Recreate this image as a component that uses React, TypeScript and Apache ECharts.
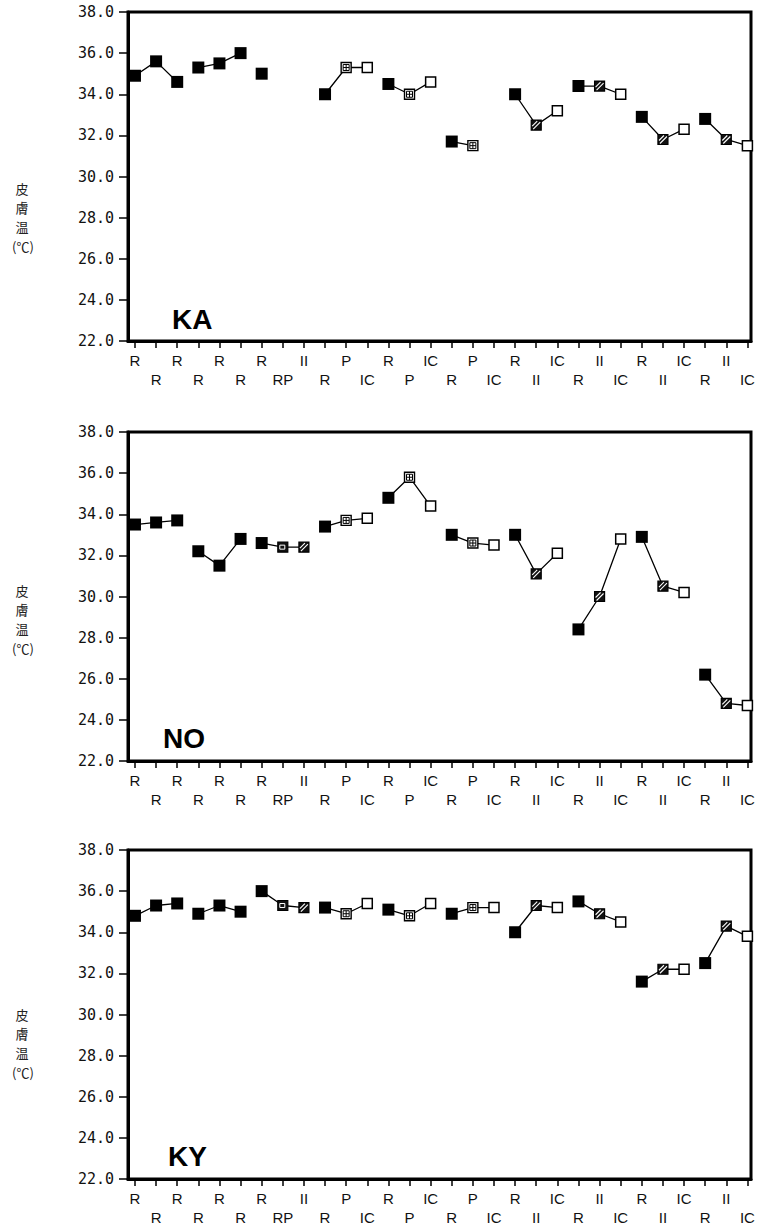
import React, { useEffect, useRef } from "react";
import * as echarts from "echarts";

// Condition labels for the 30 measurement positions (shared by all panels)
const POSITION_LABELS = [
  "R", "R", "R", "R", "R", "R", "R", "RP", "II", "R",
  "P", "IC", "R", "P", "IC", "R", "P", "IC", "R", "II",
  "IC", "R", "II", "IC", "R", "II", "IC", "R", "II", "IC",
];

// Skin temperature (°C) per position; null = not measured
const KA_VALUES = [
  34.9, 35.6, 34.6, 35.3, 35.5, 36.0, 35.0, null, null, 34.0,
  35.3, 35.3, 34.5, 34.0, 34.6, 31.7, 31.5, null, 34.0, 32.5,
  33.2, 34.4, 34.4, 34.0, 32.9, 31.8, 32.3, 32.8, 31.8, 31.5,
];
const NO_VALUES = [
  33.5, 33.6, 33.7, 32.2, 31.5, 32.8, 32.6, 32.4, 32.4, 33.4,
  33.7, 33.8, 34.8, 35.8, 34.4, 33.0, 32.6, 32.5, 33.0, 31.1,
  32.1, 28.4, 30.0, 32.8, 32.9, 30.5, 30.2, 26.2, 24.8, 24.7,
];
const KY_VALUES = [
  34.8, 35.3, 35.4, 34.9, 35.3, 35.0, 36.0, 35.3, 35.2, 35.2,
  34.9, 35.4, 35.1, 34.8, 35.4, 34.9, 35.2, 35.2, 34.0, 35.3,
  35.2, 35.5, 34.9, 34.5, 31.6, 32.2, 32.2, 32.5, 34.3, 33.8,
];

const SUBJECTS = ["KA", "NO", "KY"];
const SERIES_VALUES = [KA_VALUES, NO_VALUES, KY_VALUES];
const GROUP_SIZE = 3;

// Y axis range
const Y_MIN = 22;
const Y_MAX = 38;
const Y_STEP = 2;

// Vertical y-axis title, one glyph per line
const Y_TITLE_CHARS = ["皮", "膚", "温"];
const Y_TITLE_UNIT = "(℃)";

// Layout of the three panels (page pixels)
const PANEL_TOPS = [12, 432, 850];
const PANEL_HEIGHT = 329;
const GRID_LEFT = 128;
const GRID_WIDTH = 623;
const TITLE_Y = [188, 590, 1014];
const NAME_POS = [
  [172, 320],
  [163, 739],
  [168, 1157],
];

const POSITIONS = POSITION_LABELS.map((_, i) => i + 1);
const ODD_POS = POSITIONS.filter((p) => p % 2 === 1);
const EVEN_POS = POSITIONS.filter((p) => p % 2 === 0);

function markerChildren(kind: string) {
  const black = "#000";
  const white = "#fff";
  if (kind === "R") {
    return [{ type: "rect", shape: { x: -6, y: -6, width: 12, height: 12 }, style: { fill: black } }];
  }
  if (kind === "IC") {
    return [
      { type: "rect", shape: { x: -5, y: -5, width: 10, height: 10 }, style: { fill: white, stroke: black, lineWidth: 1.5 } },
    ];
  }
  if (kind === "P") {
    return [
      { type: "rect", shape: { x: -5, y: -5, width: 10, height: 10 }, style: { fill: white, stroke: black, lineWidth: 1.4 } },
      { type: "rect", shape: { x: -3, y: -3, width: 6, height: 6 }, style: { fill: "none", stroke: black, lineWidth: 1 } },
      { type: "line", shape: { x1: 0, y1: -3, x2: 0, y2: 3 }, style: { stroke: black, lineWidth: 1 } },
      { type: "line", shape: { x1: -3, y1: 0, x2: 3, y2: 0 }, style: { stroke: black, lineWidth: 1 } },
    ];
  }
  if (kind === "II") {
    return [
      { type: "rect", shape: { x: -5, y: -5, width: 10, height: 10 }, style: { fill: "#111", stroke: black, lineWidth: 1.2 } },
      { type: "line", shape: { x1: -4, y1: 1, x2: 1, y2: -4 }, style: { stroke: white, lineWidth: 1.1 } },
      { type: "line", shape: { x1: -3, y1: 4, x2: 4, y2: -3 }, style: { stroke: white, lineWidth: 1.1 } },
    ];
  }
  // RP
  return [
    { type: "rect", shape: { x: -5, y: -5, width: 10, height: 10 }, style: { fill: "#111", stroke: black, lineWidth: 1.2 } },
    { type: "rect", shape: { x: -3, y: -2, width: 5, height: 4 }, style: { fill: "none", stroke: white, lineWidth: 1 } },
  ];
}

export default function App() {
  const ref = useRef<HTMLDivElement>(null);

  useEffect(() => {
    if (!ref.current) return;
    const chart = echarts.init(ref.current, undefined, { renderer: "svg" });

    const grids: any[] = [];
    const xAxes: any[] = [];
    const yAxes: any[] = [];
    const series: any[] = [];
    const graphics: any[] = [];

    const xMin = 0.67;
    const xMax = 30.17;

    SUBJECTS.forEach((name, pi) => {
      grids.push({
        left: GRID_LEFT,
        top: PANEL_TOPS[pi],
        width: GRID_WIDTH,
        height: PANEL_HEIGHT,
        show: true,
        borderColor: "#000",
        borderWidth: 3,
        backgroundColor: "#fff",
      });
      const labelFont = { fontFamily: "Liberation Sans", fontSize: 15, color: "#111" };
      // first label row (odd positions) with all ticks
      xAxes.push({
        type: "value",
        gridIndex: pi,
        min: xMin,
        max: xMax,
        position: "bottom",
        splitLine: { show: false },
        axisLine: { show: true, lineStyle: { color: "#000", width: 3 } },
        axisTick: { show: true, length: 7, inside: false, customValues: POSITIONS, lineStyle: { color: "#000", width: 1.5 } },
        axisLabel: {
          show: true,
          customValues: ODD_POS,
          margin: 12,
          formatter: (v: number) => POSITION_LABELS[Math.round(v) - 1] ?? "",
          ...labelFont,
        },
      });
      // second label row (even positions)
      xAxes.push({
        type: "value",
        gridIndex: pi,
        min: xMin,
        max: xMax,
        position: "bottom",
        splitLine: { show: false },
        axisLine: { show: false },
        axisTick: { show: false },
        axisLabel: {
          show: true,
          customValues: EVEN_POS,
          margin: 31,
          formatter: (v: number) => POSITION_LABELS[Math.round(v) - 1] ?? "",
          ...labelFont,
        },
      });
      yAxes.push({
        type: "value",
        gridIndex: pi,
        min: Y_MIN,
        max: Y_MAX,
        interval: Y_STEP,
        splitLine: { show: false },
        axisLine: { show: true, lineStyle: { color: "#000", width: 3 } },
        axisTick: { show: true, length: 9, lineStyle: { color: "#000", width: 1.5 } },
        axisLabel: {
          margin: 14,
          formatter: (v: number) => v.toFixed(1),
          fontFamily: "DejaVu Sans Mono",
          fontSize: 15,
          color: "#111",
        },
      });

      const values = SERIES_VALUES[pi];
      // connecting lines inside each group of three conditions
      for (let g = 0; g < values.length; g += GROUP_SIZE) {
        const pts: any[] = [];
        for (let k = g; k < g + GROUP_SIZE; k++) {
          if (values[k] !== null) pts.push([k + 1, values[k]]);
        }
        if (pts.length > 1) {
          series.push({
            type: "line",
            xAxisIndex: pi * 2,
            yAxisIndex: pi,
            data: pts,
            symbol: "none",
            silent: true,
            lineStyle: { color: "#000", width: 1.3 },
            z: 2,
          });
        }
      }

      // markers, styled by condition
      const markerData = values
        .map((v, i) => (v === null ? null : [i + 1, v]))
        .filter((d) => d !== null);
      series.push({
        type: "custom",
        coordinateSystem: "cartesian2d",
        xAxisIndex: pi * 2,
        yAxisIndex: pi,
        data: markerData,
        z: 3,
        silent: true,
        renderItem: (_params: any, api: any) => {
          const pos = api.value(0);
          const pt = api.coord([pos, api.value(1)]);
          const kind = POSITION_LABELS[Math.round(pos) - 1];
          return { type: "group", x: pt[0], y: pt[1], children: markerChildren(kind) };
        },
      });

      // y-axis title, written vertically one glyph per line
      Y_TITLE_CHARS.forEach((ch, ci) => {
        graphics.push({
          type: "text",
          x: 22,
          y: TITLE_Y[pi] + ci * 19,
          style: {
            text: ch,
            fontFamily: "Noto Sans CJK JP",
            fontSize: 13,
            fill: "#222",
            align: "center",
            verticalAlign: "middle",
          },
        });
      });
      graphics.push({
        type: "text",
        x: 23,
        y: TITLE_Y[pi] + 58,
        style: {
          text: Y_TITLE_UNIT,
          fontFamily: "Noto Sans CJK JP",
          fontSize: 13,
          fill: "#222",
          align: "center",
          verticalAlign: "middle",
        },
      });
      // subject name inside the plot
      graphics.push({
        type: "text",
        left: NAME_POS[pi][0],
        top: NAME_POS[pi][1] - 15,
        z: 10,
        style: {
          text: name,
          fontFamily: "Liberation Sans",
          fontWeight: "bold",
          fontSize: 28,
          fill: "#000",
        },
      });
    });

    chart.setOption({
      animation: false,
      backgroundColor: "#fff",
      grid: grids,
      xAxis: xAxes,
      yAxis: yAxes,
      series,
      graphic: graphics,
    });

    return () => chart.dispose();
  }, []);

  return (
    <div
      ref={ref}
      style={{ position: "absolute", left: 0, top: 0, width: 762, height: 1231 }}
    />
  );
}
